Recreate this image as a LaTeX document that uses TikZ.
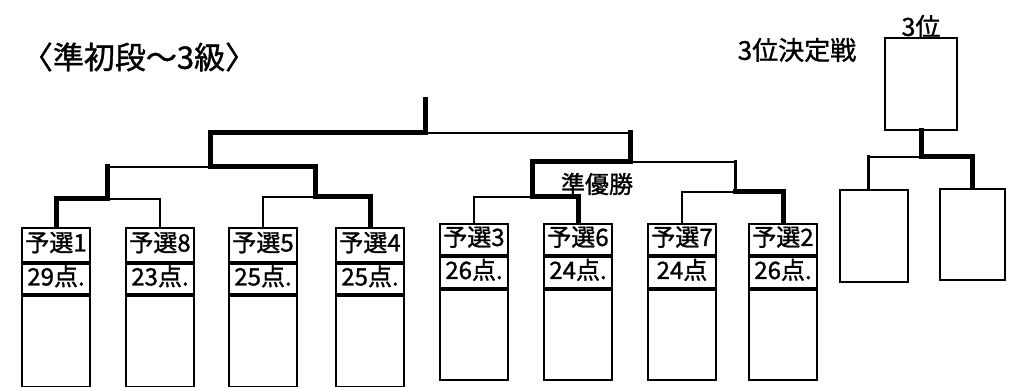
\documentclass[tikz,border=0pt]{standalone}
\usepackage{fontspec}
\newfontfamily\jp{Noto Sans CJK JP}[FakeBold=1.2]
\begin{document}
\begin{tikzpicture}[x=1pt,y=-1pt,
  cell/.style={draw, line width=2pt, inner sep=0pt, minimum width=68pt, anchor=north,
    text height=16pt, text depth=3pt, font=\jp\fontsize{24}{24}\selectfont},
  emptybox/.style={draw, line width=2pt, inner sep=0pt},
  thinl/.style={line width=2pt, line cap=rect},
  medl/.style={line width=3pt, line cap=rect},
  thickl/.style={line width=5pt, line cap=rect},
  lab/.style={inner sep=0pt, font=\jp\fontsize{22}{22}\selectfont}]
\useasboundingbox (0,0) rectangle (1015,387);
% title
\node[lab, font=\jp\fontsize{31}{31}\selectfont] (title) at (139,57) {〈準初段～3級〉};
% players (left half)
\foreach \i/\x/\nm/\sc in {1/56/予選1/29点., 2/160/予選8/23点., 3/263/予選5/25点., 4/370/予選4/25点.}{
  \node[cell, minimum height=34pt] (n\i) at (\x,227) {\nm};
  \node[cell, minimum height=30pt] (s\i) at (n\i.south) {\sc};
  \node[cell, minimum height=91pt] (e\i) at (s\i.south) {};
}
% players (right half)
\foreach \i/\x/\nm/\sc in {5/474/予選3/26点., 6/578/予選6/24点., 7/682/予選7/24点, 8/783/予選2/26点.}{
  \node[cell, minimum height=31pt] (n\i) at (\x,223) {\nm};
  \node[cell, minimum height=31pt] (s\i) at (n\i.south) {\sc};
  \node[cell, minimum height=90pt] (e\i) at (s\i.south) {};
}
% junctions
\coordinate (jA) at (107,199);
\coordinate (jB) at (315,197);
\coordinate (jC) at (532,197);
\coordinate (jD) at (735,192);
\coordinate (sL) at (210,167);
\coordinate (sR) at (630,162);
\coordinate (fin) at (425,133);
\coordinate (top) at (425,100);
% first round
\draw[thickl] (n1.north) |- (jA);
\draw[thinl] (n2.north) |- (jA);
\draw[thinl] (n3.north) |- (jB);
\draw[thickl] (n4.north) |- (jB);
\draw[thinl] (n5.north) |- (jC);
\draw[thickl] (n6.north) |- (jC);
\draw[thinl] (n7.north) |- (jD);
\draw[thickl] (n8.north) |- (jD);
% semifinals
\draw[thinl] (jA |- sL) -- (sL);
\draw[thickl] (jA) -- (jA |- sL);
\draw[thickl] (jB) |- (sL);
\draw[thickl] (jC) |- (sR);
\draw[thinl] (jD |- sR) -- (sR);
\draw[medl] (jD) -- (jD |- sR);
% final
\draw[thinl] (sR |- fin) -- (fin);
\draw[thickl] (sR) -- (sR |- fin);
\draw[thickl] (sL) |- (fin) -- (top);
\node[lab, font=\jp\fontsize{24}{24}\selectfont] (runner) at (597,184) {準優勝};
% third place
\node[lab, font=\jp\fontsize{26}{26}\selectfont] (tlab) at (797,50) {3位決定戦};
\node[emptybox, minimum width=72pt, minimum height=92pt] (t3) at (921,84) {};
\node[lab, font=\jp\fontsize{25}{25}\selectfont, anchor=south] (t3lab) at ([yshift=-1pt]t3.north) {3位};
\node[emptybox, minimum width=68pt, minimum height=92pt] (l3) at (874,236) {};
\node[emptybox, minimum width=65pt, minimum height=91pt] (r3) at (972.5,234.5) {};
\coordinate (j3) at (921,157);
\draw[thickl] (t3.south) -- (j3);
\draw[thickl] (r3.north) |- (j3);
\draw[thinl] ([xshift=-6pt]l3.north) |- (j3);
\draw[medl] ([xshift=-6pt]l3.north) -- ([xshift=-6pt]l3.north |- j3);
\end{tikzpicture}
\end{document}
